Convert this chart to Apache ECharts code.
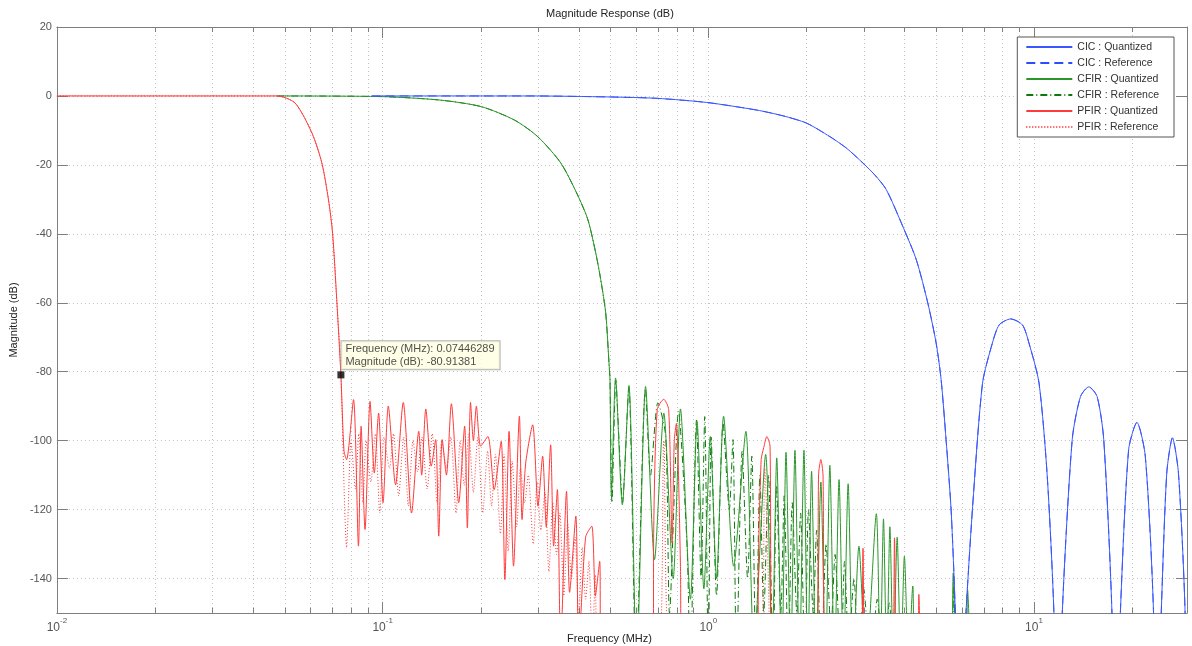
<!DOCTYPE html>
<html>
<head>
<meta charset="utf-8">
<title>Magnitude Response (dB)</title>
<script src="https://cdn.jsdelivr.net/npm/echarts@6/dist/echarts.min.js"></script>
<style>
  html, body { margin: 0; padding: 0; background: #fff; }
  #chart-content { width: 1192px; height: 646px; }
</style>
</head>
<body>
<div id="chart-content"></div>
<script>
// x range (MHz) and y range (dB)
var freqMin = 0.01;
var freqMax = 29.4912;
var magMin = -150;
var magMax = 20;

// decade labels on the log axis, minor grid positions
var decadeLabels = [0.01, 0.1, 1, 10];
var minorTicks = [0.02, 0.03, 0.04, 0.05, 0.06, 0.07, 0.08, 0.09,
  0.2, 0.3, 0.4, 0.5, 0.6, 0.7, 0.8, 0.9,
  2, 3, 4, 5, 6, 7, 8, 9, 20];

// data tip
var tipFreq = 0.07446289;
var tipMag = -80.91381;

// CIC : Quantized  [freq MHz, dB]
var cicQuant = [
  [0.0926, 0], [0.2856, 0], [0.5, -0.3], [0.697, -0.7], [0.99, -1.9], [1.409, -4.1],
  [1.7, -5.8], [2.004, -7.9], [2.361, -11.8], [2.66, -15.2], [2.985, -19.5], [3.25, -23], [3.52, -27.2],
  [3.957, -37.9], [4.35, -47.5],
  [4.72, -60.1], [5.006, -71.7], [5.185, -82.3], [5.37, -99.7], [5.56, -119.5], [5.68, -139.3],
  [5.85, -175], [5.9, -200],
  [6.0, -175], [6.18, -150], [6.48, -119], [6.95, -83.3], [7.45, -71.7], [7.82, -66.4], [8.48, -64.7],
  [9.21, -66.4], [9.65, -71.7], [10.36, -83.3], [10.98, -110.3], [11.51, -150], [11.8, -200],
  [12.21, -150], [13.1, -99.7], [13.89, -87.2], [14.73, -84.4], [15.62, -87.2], [16.37, -99.7],
  [17.35, -150], [17.7, -200],
  [18.41, -150], [19.52, -102.6], [20.7, -94.7], [21.96, -104.5], [23.28, -150], [23.6, -200],
  [24.58, -150], [25.56, -109.4], [26.61, -99.2], [27.76, -109.4], [29.1, -150], [29.4912, -200]
];
// CIC : Reference (lies under the quantized curve)
var cicRef = cicQuant;

// CFIR : Quantized
var cfirQuant = [
  [0.0475, 0], [0.1, -0.2], [0.15, -1.2], [0.2008, -3.1], [0.254, -7], [0.2993, -11.8],
  [0.3527, -19.5], [0.3967, -28.7], [0.4268, -35.9], [0.4513, -45.6], [0.4674, -53.3],
  [0.4842, -63], [0.4955, -77.5], [0.499, -82.3], [0.504, -116],
  [0.519, -81.8], [0.5445, -118.6], [0.5706, -84], [0.6025, -165], [0.6418, -84.3],
  [0.6836, -134.5], [0.73, -92], [0.78, -140], [0.8213, -90.8], [0.881, -146], [0.9234, -94.4],
  [0.969, -143], [1.014, -98.8], [1.06, -140], [1.114, -92.9], [1.196, -136.4], [1.304, -97.3],
  [1.38, -160], [1.5, -104], [1.57, -160], [1.622, -105], [1.68, -165], [1.732, -103.4],
  [1.79, -165], [1.845, -102.8], [1.905, -165], [1.966, -102.8], [2.02, -165], [2.075, -108.9],
  [2.14, -165], [2.216, -112], [2.29, -165], [2.361, -107.2], [2.44, -165], [2.52, -111.3],
  [2.6, -165], [2.687, -112.5], [2.78, -165], [2.9, -130.6], [3.05, -165], [3.28, -121.2],
  [3.37, -165], [3.45, -122.7], [3.53, -165], [3.61, -125], [3.7, -165], [3.8, -128],
  [3.9, -165], [4.0, -133.5], [4.12, -165], [4.245, -142.2], [4.35, -165],
  [5.5, -165], [5.65, -138.4], [5.8, -165], [6.15, -165], [6.25, -143.2], [6.4, -165], [6.5, -170]
];
// CFIR : Reference
var cfirRef = [
  [0.0475, 0], [0.1, -0.2], [0.15, -1.2], [0.2008, -3.1], [0.254, -7], [0.2993, -11.8],
  [0.3527, -19.5], [0.3967, -28.7], [0.4268, -35.9], [0.4513, -45.6], [0.4674, -53.3],
  [0.4842, -63], [0.4955, -77.5], [0.499, -82.3], [0.506, -118],
  [0.52, -82.5], [0.532, -100], [0.545, -118], [0.57, -84.5], [0.6, -165], [0.641, -85],
  [0.665, -110], [0.7, -89], [0.74, -98.8], [0.76, -150], [0.81, -91.5], [0.86, -130],
  [0.88, -165], [0.92, -94], [0.95, -140], [0.975, -93], [1.0, -165], [1.02, -99], [1.06, -145],
  [1.11, -95], [1.16, -120], [1.19, -99.7], [1.22, -165], [1.27, -103], [1.32, -140],
  [1.36, -104.5], [1.4, -165], [1.44, -110], [1.48, -150], [1.53, -109.9], [1.58, -165],
  [1.62, -113], [1.67, -150], [1.71, -116], [1.76, -165], [1.81, -118], [1.87, -150],
  [1.92, -121], [1.98, -165], [2.03, -120], [2.1, -150], [2.15, -126], [2.22, -165],
  [2.3, -130], [2.38, -155], [2.45, -133], [2.55, -165], [2.62, -135], [2.7, -160],
  [2.8, -140], [2.9, -165], [3.0, -143], [3.15, -165], [3.3, -146], [3.45, -165],
  [3.6, -147], [3.8, -165], [5.6, -165], [5.66, -142], [5.75, -165]
];

// PFIR : Quantized
var pfirQuant = [
  [0.01, 0], [0.0474, 0], [0.0539, -2.1], [0.0607, -10.8], [0.0651, -19.5], [0.0682, -30.1],
  [0.0702, -39.8], [0.0723, -59.1], [0.07446, -80.9], [0.0761, -103], [0.0775, -105.5],
  [0.0814, -88.1], [0.0843, -130.6], [0.0859, -95.8], [0.0883, -125.8], [0.0915, -88.6],
  [0.0943, -109.4], [0.0972, -92], [0.1003, -118], [0.1041, -90], [0.1096, -112.8],
  [0.1157, -88.9], [0.1227, -121], [0.1291, -97.3], [0.1318, -110], [0.1357, -90.8],
  [0.141, -107.4], [0.1455, -99.7], [0.1487, -127.7], [0.1524, -99.7], [0.157, -110],
  [0.1626, -89.3], [0.1713, -118], [0.1786, -95.8], [0.182, -125.3], [0.1862, -88.9],
  [0.19, -100], [0.194, -90], [0.2, -101.6], [0.2105, -98.8], [0.22, -114.2], [0.2312, -100.2],
  [0.2373, -140.3], [0.2445, -97.3], [0.2523, -136.4], [0.263, -92.9], [0.268, -122.9],
  [0.275, -106.5], [0.2889, -95.4], [0.3, -119], [0.31, -104.5], [0.318, -125], [0.328, -101.2],
  [0.335, -130.6], [0.344, -114.2], [0.352, -160], [0.367, -114.7], [0.375, -144],
  [0.392, -121.9], [0.4, -160], [0.42, -128], [0.4387, -124.8], [0.45, -145], [0.464, -135],
  [0.468, -165], [0.6775, -165], [0.68, -124.8], [0.697, -91], [0.7297, -88], [0.7557, -91],
  [0.774, -129.7], [0.786, -100], [0.7977, -95], [0.8213, -136.5], [0.825, -165],
  [1.42, -165], [1.425, -135], [1.453, -105.5], [1.48, -102], [1.512, -98.8], [1.547, -101.6],
  [1.566, -165], [2.16, -165], [2.18, -110], [2.216, -105.5], [2.25, -110], [2.28, -165],
  [2.93, -165], [2.985, -131.2], [3.04, -165], [3.66, -165], [3.73, -128.2], [3.8, -165],
  [4.38, -165], [4.43, -144.6], [4.48, -165]
];
// PFIR : Reference
var pfirRef = [
  [0.01, 0], [0.0474, 0], [0.0539, -2.1], [0.0607, -10.8], [0.0651, -19.5], [0.0682, -30.1],
  [0.0702, -39.8], [0.0723, -59.1], [0.07446, -80.9], [0.0765, -120], [0.0775, -131],
  [0.08, -100], [0.0825, -114], [0.0845, -98], [0.087, -118], [0.089, -100], [0.092, -112],
  [0.095, -98], [0.098, -121], [0.101, -99], [0.105, -108], [0.108, -98], [0.112, -116],
  [0.116, -99], [0.12, -119], [0.124, -100], [0.128, -109], [0.132, -99], [0.137, -114],
  [0.142, -98], [0.147, -118], [0.152, -100], [0.157, -108], [0.162, -99], [0.168, -121],
  [0.173, -100], [0.178, -113], [0.184, -98], [0.19, -115], [0.196, -99], [0.203, -121],
  [0.21, -103], [0.216, -119], [0.222, -104], [0.23, -127], [0.236, -104], [0.243, -132],
  [0.25, -106], [0.258, -125], [0.265, -108], [0.273, -118], [0.28, -110], [0.29, -130],
  [0.298, -112], [0.306, -126], [0.315, -115], [0.324, -138], [0.333, -118], [0.342, -133],
  [0.35, -121], [0.36, -145], [0.37, -124], [0.38, -140], [0.39, -128], [0.4, -152],
  [0.41, -131], [0.42, -146], [0.43, -135], [0.44, -160], [0.45, -139], [0.458, -165],
  [0.7, -165], [0.73, -100], [0.77, -165], [1.44, -165], [1.49, -108], [1.55, -165]
];

var view = {};
var axisGrey = '#7f7f7f';
var gridGrey = '#c2c2c2';
var font = '"Liberation Sans", Arial, sans-serif';

// 10^n labels with a raised exponent
view.decadeLabel = function (value) {
  for (var i = 0; i < decadeLabels.length; i++) {
    if (Math.abs(value - decadeLabels[i]) / decadeLabels[i] < 1e-6) {
      return '{b|10}{s|' + Math.round(Math.log10(value)) + '}';
    }
  }
  return '';
}

// dotted minor grid lines and small inside ticks (top and bottom)
view.minorGrid = function (params, api) {
  var v = api.value(0);
  var top = api.coord([v, magMax]);
  var bot = api.coord([v, magMin]);
  var x = Math.round(top[0]) + 0.5;
  return {
    type: 'group',
    children: [
      { type: 'line', shape: { x1: x, y1: top[1], x2: x, y2: bot[1] },
        style: { stroke: gridGrey, lineWidth: 1, lineDash: [1, 3] } },
      { type: 'line', shape: { x1: x, y1: bot[1], x2: x, y2: bot[1] - 5 },
        style: { stroke: axisGrey, lineWidth: 1 } },
      { type: 'line', shape: { x1: x, y1: top[1], x2: x, y2: top[1] + 5 },
        style: { stroke: axisGrey, lineWidth: 1 } }
    ]
  };
}

view.lineSeries = function (name, data, color, type, z) {
  return {
    name: name,
    type: 'line',
    data: data,
    symbol: 'none',
    smooth: 0.25,
    clip: true,
    silent: true,
    z: z,
    lineStyle: { color: color, width: 1, type: type },
    itemStyle: { color: color }
  };
}

view.loadChart = function () {
  var mychat = echarts.init(document.getElementById('chart-content'), null, { renderer: 'canvas' });
  var option = {
    animation: false,
    textStyle: { fontFamily: font },
    title: [
      { text: 'Magnitude Response (dB)', left: 546, top: 8, padding: 0,
        textStyle: { fontSize: 11, fontWeight: 'normal', color: '#222', fontFamily: font } },
      { text: 'Frequency (MHz)', left: 567, top: 633, padding: 0,
        textStyle: { fontSize: 11, fontWeight: 'normal', color: '#222', fontFamily: font } }
    ],
    legend: {
      orient: 'vertical',
      right: 18,
      top: 37,
      itemWidth: 46,
      itemHeight: 12,
      itemGap: 4,
      padding: [4, 15, 4, 8],
      backgroundColor: '#fff',
      borderColor: '#555',
      borderWidth: 1,
      borderRadius: 0,
      itemStyle: { opacity: 0 },
      textStyle: { fontSize: 10.5, color: '#333', fontFamily: font, lineHeight: 12 },
      data: ['CIC : Quantized', 'CIC : Reference', 'CFIR : Quantized',
        'CFIR : Reference', 'PFIR : Quantized', 'PFIR : Reference']
    },
    grid: { left: 54, right: 5, top: 27, bottom: 33 },
    xAxis: [
      {
        type: 'log', logBase: 10, min: freqMin, max: freqMax, position: 'bottom',
        axisLine: { show: true, onZero: false, lineStyle: { color: axisGrey } },
        axisTick: { show: true, inside: true, length: 11, lineStyle: { color: axisGrey } },
        splitLine: { show: true, lineStyle: { color: gridGrey, type: [1, 3] } },
        axisLabel: {
          margin: 4, formatter: view.decadeLabel, color: '#555',
          rich: {
            b: { fontSize: 12, lineHeight: 17, verticalAlign: 'bottom', color: '#555', fontFamily: font },
            s: { fontSize: 8, lineHeight: 17, verticalAlign: 'top', color: '#555', fontFamily: font }
          }
        }
      },
      {
        type: 'log', logBase: 10, min: freqMin, max: freqMax, position: 'top',
        axisLine: { show: true, onZero: false, lineStyle: { color: axisGrey } },
        axisTick: { show: true, inside: true, length: 11, lineStyle: { color: axisGrey } },
        axisLabel: { show: false },
        splitLine: { show: false }
      }
    ],
    yAxis: [
      {
        type: 'value', min: magMin, max: magMax, splitNumber: 8, minInterval: 20, maxInterval: 20,
        name: 'Magnitude (dB)', nameLocation: 'middle', nameGap: 29, nameRotate: 90,
        nameTextStyle: { fontSize: 11, color: '#222', fontFamily: font },
        axisLine: { show: true, onZero: false, lineStyle: { color: axisGrey } },
        axisTick: { show: true, inside: true, length: 11, lineStyle: { color: axisGrey } },
        splitLine: { show: true, lineStyle: { color: gridGrey, type: [1, 3] } },
        axisLabel: {
          margin: 5, fontSize: 11, color: '#555',
          formatter: function (v) { return v % 20 === 0 ? String(v) : ''; }
        }
      },
      {
        type: 'value', min: magMin, max: magMax, splitNumber: 8, minInterval: 20, maxInterval: 20,
        position: 'right',
        axisLine: { show: true, onZero: false, lineStyle: { color: axisGrey } },
        axisTick: { show: true, inside: true, length: 11, lineStyle: { color: axisGrey } },
        axisLabel: { show: false },
        splitLine: { show: false }
      }
    ],
    series: [
      {
        name: 'minor grid',
        type: 'custom',
        silent: true,
        z: 1,
        renderItem: view.minorGrid,
        data: minorTicks.map(function (v) { return [v, magMin]; }),
        encode: { x: 0, y: 1 }
      },
      view.lineSeries('CFIR : Reference', cfirRef, '#0b7a0b', [7, 3, 1, 3], 2),
      view.lineSeries('CFIR : Quantized', cfirQuant, '#2a962a', 'solid', 3),
      view.lineSeries('CIC : Reference', cicRef, '#2d4bff', [9, 5], 4),
      view.lineSeries('CIC : Quantized', cicQuant, '#3a58ff', 'solid', 5),
      view.lineSeries('PFIR : Reference', pfirRef, '#ff3535', [1, 2], 6),
      view.lineSeries('PFIR : Quantized', pfirQuant, '#ff3a3a', 'solid', 7),
      {
        name: 'data tip',
        type: 'scatter',
        z: 10,
        silent: true,
        symbol: 'rect',
        symbolSize: 7,
        itemStyle: { color: '#000' },
        data: [[tipFreq, tipMag]],
        label: {
          show: true,
          position: [4, -30],
          formatter: 'Frequency (MHz): ' + tipFreq + '\nMagnitude (dB): ' + tipMag,
          fontSize: 11,
          lineHeight: 13,
          color: '#222',
          fontFamily: font,
          backgroundColor: '#ffffe1',
          borderColor: '#a0a0a0',
          borderWidth: 1,
          padding: [1, 5, 1, 4]
        }
      }
    ]
  };
  mychat.setOption(option);
}

window.onload = function () {
  view.loadChart();
};
</script>
</body>
</html>
